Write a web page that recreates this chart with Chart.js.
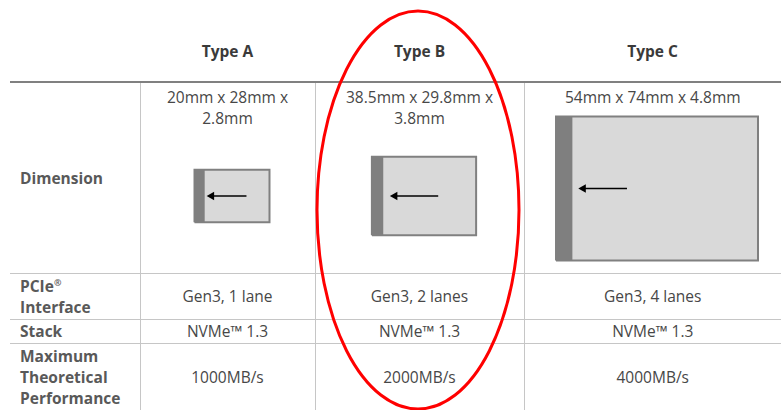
<!DOCTYPE html>
<html>
<head>
<meta charset="utf-8">
<script src="https://cdn.jsdelivr.net/npm/chart.js@4/dist/chart.umd.min.js"></script>
<style>
  html, body { margin: 0; padding: 0; background: #fff; }
  body { width: 781px; height: 410px; position: relative; overflow: hidden;
         font-family: "Open Sans", sans-serif; color: #474747; }
  table { position: absolute; left: 10px; top: 0; width: 771px;
          border-collapse: collapse; table-layout: fixed; }
  td, th { padding: 0; font-size: 15.5px; line-height: 21px; text-align: center; }
  th { font-weight: 700; color: #3a3a3a; vertical-align: bottom; padding-bottom: 19px; }
  tr.head { height: 82px; }
  tr.head th { border-bottom: 2px solid #808080; }
  tbody td { border: 1px solid #c6c6c6; vertical-align: middle; }
  tbody td:first-child { border-left: none; text-align: left; padding-left: 10px;
                         font-weight: 700; color: #595959; }
  tbody td:last-child { border-right: none; }
  sup { font-size: 9px; line-height: 0; position: relative; top: 1px; }
  .dimcell { position: relative; height: 190px; }
  .dimtext { padding-top: 4px; }
  .card { position: absolute; left: 8px; right: 0; }
  svg { position: absolute; left: 0; top: 0; pointer-events: none; }
</style>
</head>
<body>
<table id="tbl">
  <colgroup><col style="width:130px"><col style="width:175px"><col style="width:209px"><col style="width:257px"></colgroup>
  <thead><tr class="head" id="headRow"><th></th></tr></thead>
  <tbody id="body"></tbody>
</table>
<svg width="781" height="410"><ellipse cx="418" cy="210" rx="101" ry="199" fill="none" stroke="#ff0000" stroke-width="3"/></svg>
<script>
// ── Data ───────────────────────────────────────────────────────────────────
const TYPES = ["Type A", "Type B", "Type C"];
const ROW_LABELS = ["Dimension", "PCIe<sup>®</sup><br>Interface", "Stack", "Maximum<br>Theoretical<br>Performance"];
const DIMENSION_LINES = [["20mm x 28mm x", "2.8mm"], ["38.5mm x 29.8mm x", "3.8mm"], ["54mm x 74mm x 4.8mm"]];
const CARD_WIDTH_MM = [28, 38.5, 74];
const CARD_HEIGHT_MM = [20, 29.8, 54];
const STRIPE_MM = [3.8, 4.2, 6.0];
const ARROW_GAP_MM = [2.6, 4.3, 4.0];
const ARROW_LEN_MM = [13, 16, 16];
const PCIE = ["Gen3, 1 lane", "Gen3, 2 lanes", "Gen3, 4 lanes"];
const STACK = ["NVMe™ 1.3", "NVMe™ 1.3", "NVMe™ 1.3"];
const PERF_MBS = [1000, 2000, 4000];

const PX_PER_MM = 2.85;

// ── Table ──────────────────────────────────────────────────────────────────
const headRow = document.getElementById("headRow");
TYPES.forEach(t => { const th = document.createElement("th"); th.textContent = t; headRow.appendChild(th); });

const tbody = document.getElementById("body");
const rowHeights = [190, 46, 24, 67];
const rowValues = [null, PCIE, STACK, PERF_MBS.map(v => v + "MB/s")];
ROW_LABELS.forEach((label, r) => {
  const tr = document.createElement("tr");
  tr.style.height = rowHeights[r] + "px";
  const lab = document.createElement("td");
  lab.innerHTML = label;
  tr.appendChild(lab);
  TYPES.forEach((_, i) => {
    const td = document.createElement("td");
    if (r === 0) {
      td.style.verticalAlign = "top";
      const cell = document.createElement("div");
      cell.className = "dimcell";
      const txt = document.createElement("div");
      txt.className = "dimtext";
      txt.innerHTML = DIMENSION_LINES[i].join("<br>");
      cell.appendChild(txt);
      // space left under the caption holds the card
      const lines = DIMENSION_LINES[i].length;
      const wrap = document.createElement("div");
      wrap.className = "card";
      wrap.style.top = (6 + lines * 21) + "px";
      wrap.style.bottom = (6 * lines) + "px";
      const cv = document.createElement("canvas");
      cv.id = "card" + i;
      wrap.appendChild(cv);
      cell.appendChild(wrap);
      td.appendChild(cell);
    } else {
      td.textContent = rowValues[r][i];
    }
    tr.appendChild(td);
  });
  tbody.appendChild(tr);
});

// ── Cards drawn to scale (mm) ──────────────────────────────────────────────
function rect(x0, y0, x1, y1) {
  return [{ x: x0, y: y0 }, { x: x1, y: y0 }, { x: x1, y: y1 }, { x: x0, y: y1 }, { x: x0, y: y0 }];
}

TYPES.forEach((_, i) => {
  const cv = document.getElementById("card" + i);
  const box = cv.parentElement.getBoundingClientRect();
  cv.width = box.width; cv.height = box.height;
  cv.style.width = box.width + "px"; cv.style.height = box.height + "px";

  const w = CARD_WIDTH_MM[i], h = CARD_HEIGHT_MM[i];
  const x0 = -w / 2, x1 = w / 2, y0 = -h / 2, y1 = h / 2;
  const ax = x0 + STRIPE_MM[i] + ARROW_GAP_MM[i];
  const halfW = box.width / 2 / PX_PER_MM, halfH = box.height / 2 / PX_PER_MM;

  new Chart(cv, {
    type: "scatter",
    data: {
      datasets: [
        { data: [{ x: ax, y: 0 }, { x: ax + ARROW_LEN_MM[i], y: 0 }], showLine: true,
          borderColor: "#000", borderWidth: 1.5, pointStyle: "triangle", pointRotation: -90,
          pointRadius: [5, 0], pointBackgroundColor: "#000", pointBorderWidth: 0, order: 0, clip: false },
        { data: rect(x0, y0, x0 + STRIPE_MM[i], y1), showLine: true, fill: "shape",
          backgroundColor: "#7f7f7f", borderWidth: 0, pointRadius: 0, order: 1, clip: false },
        { data: rect(x0, y0, x1, y1), showLine: true, fill: "shape",
          backgroundColor: "#d9d9d9", borderColor: "#808080", borderWidth: 2, pointRadius: 0, order: 2, clip: false },
      ],
    },
    options: {
      responsive: false,
      animation: false,
      events: [],
      layout: { padding: 0 },
      plugins: { legend: { display: false }, tooltip: { enabled: false } },
      scales: {
        x: { type: "linear", min: -halfW, max: halfW, display: false },
        y: { type: "linear", min: -halfH, max: halfH, display: false },
      },
    },
  });
});
</script>
</body>
</html>
